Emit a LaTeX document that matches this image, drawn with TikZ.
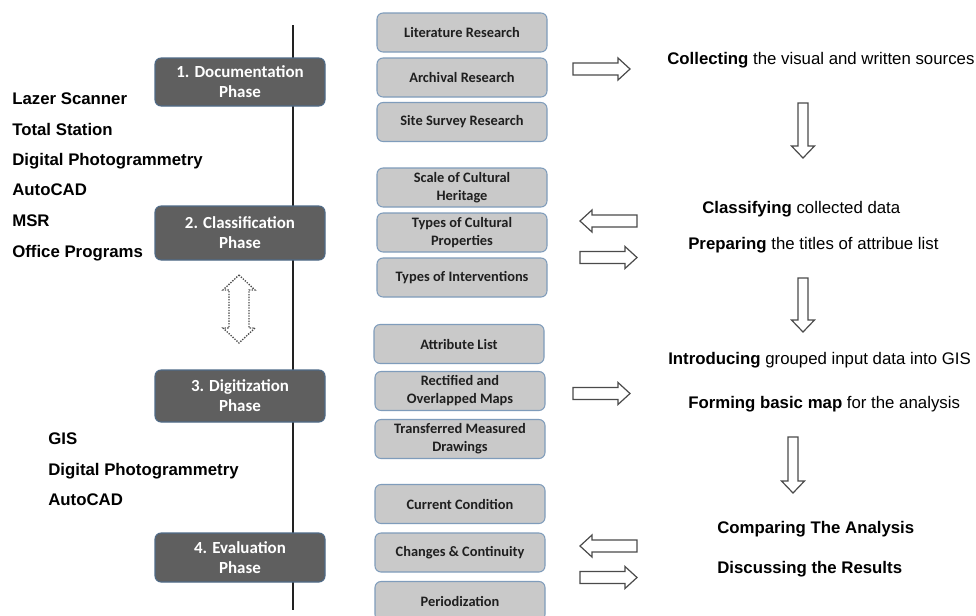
\documentclass[tikz,border=0pt]{standalone}
\usepackage{fontspec}
\setmainfont{Liberation Sans}
\newfontfamily\boxfont{Carlito}

\definecolor{phasefill}{HTML}{5F5F5F}
\definecolor{phaseedge}{HTML}{4F6B88}
\definecolor{taskfill}{HTML}{C9C9C9}
\definecolor{taskedge}{HTML}{7F9CBB}
\definecolor{arrowedge}{HTML}{4A4A4A}
\definecolor{axiscol}{HTML}{222222}

\begin{document}
\begin{tikzpicture}[x=0.75pt,y=-0.75pt,
  phase/.style={draw=phaseedge, fill=phasefill, line width=0.8pt,
    rounded corners=4.5pt, minimum width=127.5pt, inner sep=0pt,
    text=white, align=center,
    font=\boxfont\bfseries\fontsize{12.7}{15}\selectfont},
  task/.style={draw=taskedge, fill=taskfill, line width=0.8pt,
    rounded corners=4.5pt, minimum width=127.5pt, minimum height=29.25pt,
    inner sep=0pt, text=black!88, align=center,
    font=\boxfont\bfseries\fontsize{10.8}{13.5}\selectfont},
  tool/.style={anchor=west, inner sep=0pt, text height=9pt, text depth=0pt,
    font=\bfseries\fontsize{12.6}{15}\selectfont},
  note/.style={anchor=west, inner sep=0pt, text height=9pt, text depth=0pt,
    font=\fontsize{12.6}{15}\selectfont},
  arrowline/.style={draw=arrowedge, fill=white, line width=0.9pt, line join=miter},
  pics/blockarrow/.style n args={3}{code={
    \draw[arrowline] (0,-#2) -- (#1-12,-#2) -- (#1-12,-#3) -- (#1,0)
      -- (#1-12,#3) -- (#1-12,#2) -- (0,#2) -- cycle;}}
]
\useasboundingbox (0,0) rectangle (976,615);
\clip (0,0) rectangle (976,615);
\fill[white] (0,0) rectangle (976,615);

% time axis behind the phase boxes
\coordinate (axtop) at (293,25);
\coordinate (axbot) at (293,610);
\draw[axiscol, line width=1.5pt] (axtop) -- (axbot);

% phases
\node[phase, minimum height=36pt]    (p1) at (240,82)    {1. Documentation\\Phase};
\node[phase, minimum height=40.5pt]  (p2) at (240,233)   {2. Classification\\Phase};
\node[phase, minimum height=39pt]    (p3) at (240,396)   {3. Digitization\\Phase};
\node[phase, minimum height=36.75pt] (p4) at (240,557.5) {4. Evaluation\\Phase};

% tasks of each phase
\node[task] (lit)   at (462,32.5)  {Literature Research};
\node[task] (arch)  at (462,77.5)  {Archival Research};
\node[task] (site)  at (462,122)   {Site Survey Research};

\node[task] (scale) at (462,187.5) {Scale of Cultural\\Heritage};
\node[task] (tprop) at (462,232.5) {Types of Cultural\\Properties};
\node[task] (tint)  at (462,277.5) {Types of Interventions};

\node[task] (attr)  at (459,344)   {Attribute List};
\node[task] (rect)  at (460,391)   {Rectified and\\Overlapped Maps};
\node[task] (trans) at (460,439)   {Transferred Measured\\Drawings};

\node[task] (curr)  at (460,504)   {Current Condition};
\node[task] (chg)   at (460,552.5) {Changes \& Continuity};
\node[task] (per)   at (460,601)   {Periodization};

% tools
\node[tool] (t1) at (12,98)  {Lazer Scanner};
\node[tool] (t2) at (12,129) {Total Station};
\node[tool] (t3) at (12,159) {Digital Photogrammetry};
\node[tool] (t4) at (12,189) {AutoCAD};
\node[tool] (t5) at (12,220) {MSR};
\node[tool] (t6) at (12,251) {Office Programs};

\node[tool] (g1) at (48,438) {GIS};
\node[tool] (g2) at (48,469) {Digital Photogrammetry};
\node[tool] (g3) at (48,499) {AutoCAD};

% outcomes
\node[note] (o1) at (667,58)  {\textbf{Collecting} the visual and written sources};
\node[note] (o2) at (702,207) {\textbf{Classifying} collected data};
\node[note] (o3) at (688,243) {\textbf{Preparing} the titles of attribue list};
\node[note] (o4) at (668,358) {\textbf{Introducing} grouped input data into GIS};
\node[note] (o5) at (688,402) {\textbf{Forming basic map} for the analysis};
\node[note] (o6) at (717,527) {\textbf{Comparing The Analysis}};
\node[note] (o7) at (717,567) {\textbf{Discussing the Results}};

% block arrows between tasks and outcomes
\pic at (573,69) {blockarrow={57}{6}{11}};
\pic[rotate=180] at (637,221) {blockarrow={57}{6}{11}};
\pic at (580,257.5) {blockarrow={57}{6}{11}};
\pic at (573,393.5) {blockarrow={57}{6}{11}};
\pic[rotate=180] at (637,546) {blockarrow={57}{6}{11}};
\pic at (580,577.5) {blockarrow={57}{6}{11}};

% downward flow of outcomes
\pic[rotate=-90] at (803,103) {blockarrow={55}{5}{11.5}};
\pic[rotate=-90] at (803,278) {blockarrow={54}{5}{11.5}};
\pic[rotate=-90] at (793,437) {blockarrow={56}{5}{11.5}};

% dotted two-way arrow between phases 2 and 3
\draw[arrowedge, line width=1pt, dash pattern=on 1pt off 1pt]
  (239,275) -- (255,290) -- (249,290) -- (249,328) -- (255,328) -- (239,343)
  -- (223,328) -- (229,328) -- (229,290) -- (223,290) -- cycle;
\end{tikzpicture}
\end{document}
